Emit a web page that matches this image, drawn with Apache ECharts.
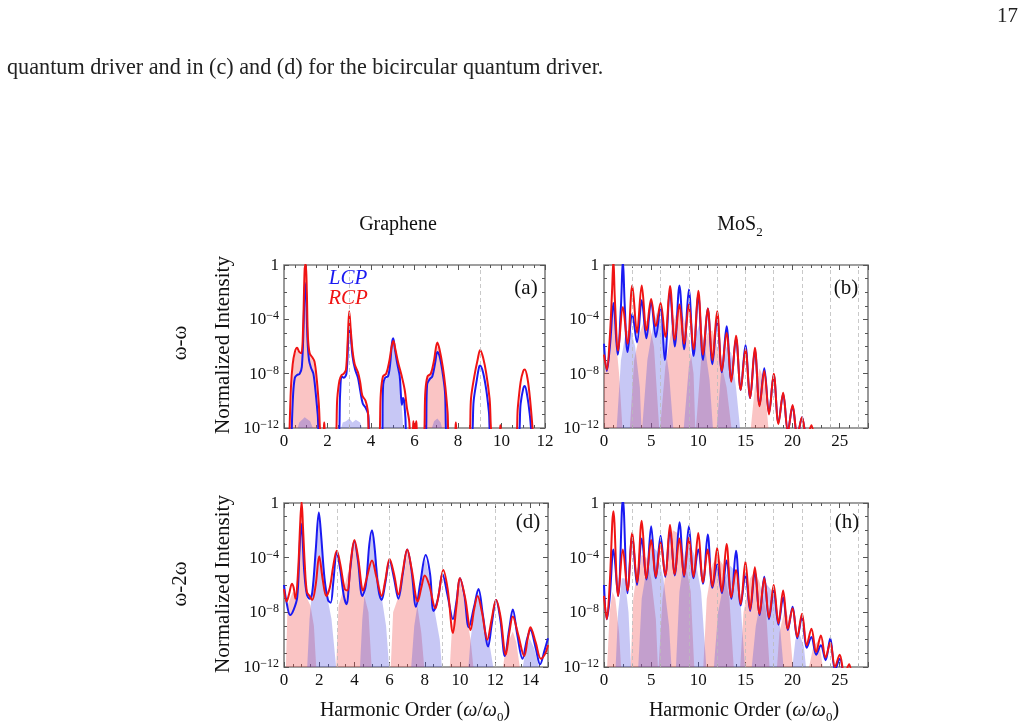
<!DOCTYPE html>
<html>
<head>
<meta charset="utf-8">
<script src="https://cdn.jsdelivr.net/npm/echarts@6/dist/echarts.min.js"></script>
<style>
html, body { margin: 0; padding: 0; background: #fff; }
#main { width: 1028px; height: 726px; }
</style>
</head>
<body>
<div id="main"></div>
<script>
// all intensities are written as log10 exponents: [harmonic order, exponent]
// (a) graphene, omega-omega
const aLcp = [[0.35,-12.5],[0.42,-9.5],[0.5,-8.3],[0.6,-8.1],[0.72,-8.0],[0.82,-7.5],[0.9,-4.5],[0.96,-1.3],[1.02,-2.5],[1.08,-5.5],[1.15,-7.0],[1.25,-7.6],[1.35,-8.0],[1.45,-9.3],[1.55,-11],[1.65,-12.5],
  [2.5,-12.5],[2.58,-9.5],[2.65,-8.2],[2.75,-8.3],[2.87,-8.0],[2.95,-5.6],[3.0,-4.2],[3.07,-5.2],[3.15,-6.7],[3.27,-7.7],[3.4,-8.3],[3.5,-9.2],[3.62,-10.2],[3.75,-10.5],[3.87,-11.0],[3.95,-12.5],
  [4.5,-12.5],[4.56,-8.8],[4.65,-8.3],[4.78,-8.2],[4.88,-7.3],[4.96,-5.8],[5.02,-5.4],[5.1,-6.2],[5.2,-7.2],[5.32,-8.2],[5.42,-10.3],[5.47,-9.8],[5.52,-10.0],[5.58,-11.2],[5.65,-12.5],
  [6.5,-12.5],[6.58,-8.8],[6.7,-8.4],[6.82,-8.2],[6.95,-7.2],[7.05,-6.4],[7.15,-6.7],[7.28,-7.8],[7.4,-9.3],[7.5,-12.5],
  [8.6,-12.5],[8.72,-10],[8.85,-8.6],[8.97,-7.5],[9.02,-7.4],[9.15,-7.9],[9.3,-9.2],[9.42,-10.8],[9.52,-12.5],
  [10.75,-12.5],[10.88,-10.2],[11.0,-9.1],[11.07,-8.9],[11.18,-9.6],[11.3,-11],[11.38,-12.5]];
const aRcp = [[0.25,-12.5],[0.32,-9],[0.4,-7.3],[0.5,-6.4],[0.6,-6.1],[0.7,-6.4],[0.8,-6.5],[0.88,-4.5],[0.95,-0.3],[1.0,0.1],[1.05,-2],[1.1,-5.3],[1.18,-6.5],[1.3,-6.8],[1.4,-7.1],[1.5,-8.3],[1.6,-10.2],[1.7,-12.5],
  [1.8,-12.5],[1.85,-11.6],[1.9,-12.5],
  [2.35,-12.5],[2.45,-9.8],[2.55,-8.5],[2.65,-8.1],[2.75,-8.0],[2.85,-7.7],[2.93,-5.5],[3.0,-3.4],[3.07,-4.8],[3.15,-6.3],[3.25,-7.3],[3.4,-7.9],[3.5,-8.6],[3.6,-9.6],[3.75,-10.0],[3.85,-10.7],[3.95,-12.5],
  [4.35,-12.5],[4.45,-9.5],[4.55,-8.2],[4.7,-8.0],[4.85,-7.0],[4.95,-6.0],[5.03,-5.6],[5.12,-6.2],[5.25,-7.2],[5.4,-8.1],[5.55,-9.2],[5.65,-10.5],[5.75,-11.4],[5.82,-12.5],
  [5.9,-12.5],[5.95,-11.5],[6.0,-12.5],[6.08,-11.5],[6.15,-12.5],
  [6.4,-12.5],[6.5,-9.3],[6.6,-8.2],[6.75,-8.0],[6.9,-7.0],[7.05,-5.7],[7.15,-6.2],[7.3,-7.5],[7.42,-9.0],[7.52,-10.8],[7.6,-12.5],
  [7.85,-12.5],[7.9,-11.6],[7.95,-12.5],
  [8.5,-12.5],[8.6,-9.8],[8.75,-8.2],[8.9,-7.0],[9.02,-6.25],[9.15,-6.8],[9.3,-8.0],[9.45,-9.8],[9.6,-12.5],
  [9.9,-12.5],[9.95,-11.8],[10.0,-12.5],
  [10.65,-12.5],[10.75,-10.5],[10.88,-8.6],[11.0,-7.8],[11.07,-7.7],[11.2,-8.4],[11.32,-10],[11.45,-12.5]];
const aPinkFill = [[0.3,-12.5],[0.4,-7.6],[0.5,-6.6],[0.6,-6.3],[0.75,-6.6],[0.88,-5],[0.97,-0.5],[1.03,-1.5],[1.1,-5.5],[1.2,-6.7],[1.35,-7.1],[1.5,-8.5],[1.6,-10.5],[1.7,-12.5],
  [6.45,-12.5],[6.55,-8.5],[6.7,-8.1],[6.85,-7.6],[7.0,-6.0],[7.1,-6.1],[7.25,-7.2],[7.4,-9],[7.55,-12.5]];
const aBlueFill = [[0.55,-12.5],[0.7,-11.6],[0.95,-11.2],[1.2,-11.5],[1.45,-12.5],
  [2.55,-12.5],[2.7,-11.6],[2.85,-11.5],[3.0,-11.3],[3.15,-11.6],[3.3,-11.4],[3.5,-11.6],[3.7,-12.5],
  [4.55,-12.5],[4.6,-8.6],[4.75,-8.3],[4.88,-7.3],[4.97,-5.8],[5.03,-5.5],[5.12,-6.5],[5.25,-7.8],[5.38,-9.5],[5.5,-12.5],
  [6.7,-12.5],[6.9,-11.5],[7.05,-11.3],[7.2,-11.6],[7.35,-12.5],
  [10.95,-12.5],[11.02,-11.7],[11.1,-12.5]];
const aDash = [3, 9];

// (b) MoS2, omega-omega
const bLcp = [[0,-5.8],[0.3,-7.8],[0.65,-5.8],[1,-2.8],[1.45,-6.6],[1.8,-3],[2,0.4],[2.2,-3],[2.5,-6.4],[3,-3.6],[3.5,-5.7],[4,-2.6],[4.5,-5.4],[5,-2.7],[5.5,-5.3],[6,-3.0],[6.45,-7.0],[7,-2.0],[7.5,-6.0],[8,-1.5],[8.5,-6.2],[9,-1.8],[9.5,-6.7],[10,-2.2],[10.5,-7.0],[11,-3.2],[11.5,-7.3],[12,-3.9],[12.5,-7.9],[13,-4.5],[13.5,-8.5],[14,-5.4],[14.5,-9.2],[15,-5.9],[15.5,-9.8],[16,-6.3],[16.5,-10.3],[17,-7.6],[17.5,-10.9],[18,-8.1],[18.5,-11.6],[19,-9.5],[19.5,-12.2],[20,-10.4],[20.5,-12.6],[21,-11.2],[21.4,-13]];
const bRcp = [[0,-6.6],[0.3,-7.7],[0.6,-5.5],[0.85,-2],[1,0.4],[1.15,-2.5],[1.5,-6.3],[2,-3.1],[2.5,-5.8],[3,-1.5],[3.5,-5.0],[4,-1.5],[4.5,-4.8],[5,-2.5],[5.5,-4.5],[6,-2.8],[6.5,-5.3],[7,-1.55],[7.5,-5.5],[8,-2.9],[8.5,-5.8],[9,-2.9],[9.5,-6.2],[10,-1.9],[10.5,-6.6],[11,-3.2],[11.5,-7.0],[12,-3.4],[12.5,-7.8],[13,-5.0],[13.5,-8.6],[14,-5.2],[14.5,-9.2],[15,-6.2],[15.5,-9.8],[16,-6.1],[16.5,-10.4],[17,-7.8],[17.5,-11.0],[18,-8.0],[18.5,-11.7],[19,-9.4],[19.5,-12.3],[20,-10.3],[20.5,-12.6],[21,-11.2],[21.5,-12.8],[22,-11.8],[22.3,-13]];
const bPinkFill = [[0,-8],[0.4,-7],[0.8,-5],[1,-3],[1.2,-5],[1.6,-8],[2,-12.5],
  [2.7,-12.5],[3.2,-7],[3.8,-5],[4.3,-4.0],[4.8,-4.3],[5.3,-6],[5.9,-12.5],
  [6.0,-12.5],[6.5,-7.5],[7.2,-4.5],[7.8,-3.3],[8.3,-3.5],[9,-5.5],[9.5,-8],[9.7,-12.5],
  [9.75,-12.5],[10.3,-7],[11,-5],[11.5,-4.8],[12.2,-6.5],[13,-9],[13.6,-12.5],
  [15.5,-12.5],[16,-9],[16.5,-7.6],[17,-8.5],[17.5,-12.5]];
const bBlueFill = [[1.3,-12.5],[1.8,-7],[2.3,-5],[2.8,-4.6],[3.3,-6],[3.8,-9],[4.0,-12.5],
  [4.05,-12.5],[4.6,-7],[5.2,-4.5],[5.6,-3.5],[6.2,-4.5],[6.9,-8],[7.4,-12.5],
  [8.4,-12.5],[9,-7.5],[9.6,-5.5],[10.1,-4.4],[10.6,-5.5],[11.2,-8.5],[11.6,-12.5],
  [11.9,-12.5],[12.4,-8],[13,-6],[13.5,-6.5],[14,-9],[14.5,-12.5]];
const bDash = [3, 6, 9, 12, 15, 18, 21, 24, 27];

// (d) graphene, omega-2omega
const dLcp = [[0,-6.0],[0.15,-7.3],[0.35,-8.2],[0.55,-7.8],[0.75,-6.9],[0.88,-3.5],[0.97,-1.5],[1.05,-2.5],[1.15,-5],[1.3,-6.7],[1.45,-7.0],[1.6,-6.6],[1.8,-3.5],[1.98,-0.7],[2.1,-2.2],[2.3,-5.5],[2.5,-7.1],[2.65,-7.3],[2.8,-5.8],[3.0,-3.6],[3.2,-4.9],[3.4,-6.8],[3.55,-7.4],[3.75,-5.0],[4.0,-2.8],[4.2,-4.2],[4.45,-6.8],[4.65,-6.0],[4.85,-3.0],[5.0,-2.0],[5.15,-3.3],[5.35,-6.2],[5.55,-7.1],[5.75,-5.9],[6.0,-4.2],[6.25,-5.5],[6.5,-7.0],[6.75,-5.2],[7.0,-3.4],[7.25,-5.0],[7.5,-7.6],[7.75,-5.8],[8.05,-3.8],[8.3,-5.2],[8.5,-7.9],[8.75,-7.0],[9.0,-5.2],[9.3,-6.8],[9.6,-8.5],[9.8,-7.2],[10.0,-5.5],[10.25,-6.8],[10.5,-9.1],[10.8,-7.6],[11.05,-6.3],[11.3,-8.2],[11.6,-10.5],[11.8,-8.9],[12.05,-7.1],[12.3,-8.6],[12.55,-11.2],[12.8,-9.2],[13.0,-7.8],[13.25,-9.6],[13.55,-11.4],[13.8,-10.0],[14.0,-9.3],[14.3,-10.6],[14.55,-11.8],[14.8,-10.8],[15.0,-9.9]];
const dRcp = [[0,-6.3],[0.15,-7.2],[0.3,-6.6],[0.45,-5.9],[0.55,-6.2],[0.65,-7.0],[0.8,-5.0],[0.92,-1.5],[1.0,0.1],[1.08,-1.8],[1.18,-4.5],[1.3,-6.5],[1.45,-6.8],[1.6,-7.1],[1.8,-6.0],[2.0,-3.9],[2.2,-5.6],[2.4,-6.8],[2.6,-6.2],[2.8,-4.6],[3.0,-3.5],[3.2,-4.5],[3.45,-6.3],[3.6,-6.4],[3.8,-4.2],[4.0,-2.7],[4.2,-3.9],[4.5,-6.4],[4.7,-5.5],[5.0,-4.2],[5.25,-5.4],[5.55,-6.8],[5.75,-5.7],[6.0,-4.1],[6.25,-5.2],[6.5,-6.7],[6.75,-5.0],[7.0,-3.4],[7.25,-4.8],[7.6,-7.2],[7.8,-6.2],[8.0,-5.3],[8.25,-6.0],[8.6,-7.7],[8.8,-6.6],[9.05,-4.9],[9.3,-6.3],[9.6,-9.5],[9.8,-7.5],[10.0,-5.5],[10.3,-7.0],[10.6,-9.3],[10.8,-7.8],[11.0,-6.8],[11.25,-8.0],[11.55,-10.0],[11.8,-8.5],[12.05,-7.1],[12.3,-8.3],[12.6,-11.1],[12.8,-9.5],[13.0,-8.3],[13.3,-9.6],[13.65,-11.2],[13.85,-9.9],[14.0,-9.1],[14.3,-10.2],[14.6,-11.4],[14.85,-11.0],[15.0,-10.4]];
const dPinkFill = [[0.1,-12.5],[0.2,-7.5],[0.5,-6.5],[0.75,-6.8],[0.9,-3],[1.0,-0.3],[1.1,-3],[1.25,-6.8],[1.5,-7.5],[1.7,-9],[1.85,-12.5],
  [2.95,-12.5],[3.1,-7.5],[3.5,-5.8],[3.85,-4],[4.0,-2.9],[4.2,-4.2],[4.5,-6.5],[4.8,-8],[5.0,-12.5],
  [6.05,-12.5],[6.2,-8],[6.6,-6.5],[6.85,-5],[7.0,-3.6],[7.2,-5],[7.55,-7.3],[7.8,-9.5],[8.0,-12.5],
  [9.4,-12.5],[9.55,-9],[9.8,-7.5],[10.0,-5.7],[10.25,-7.2],[10.6,-10],[10.8,-12.5],
  [12.4,-12.5],[12.55,-11],[12.8,-10],[13.0,-9.4],[13.2,-10.2],[13.45,-12.5]];
const dBlueFill = [[1.3,-12.5],[1.45,-8.5],[1.7,-5],[1.9,-2],[2.0,-1.1],[2.15,-3],[2.4,-6.5],[2.7,-8.5],[3.0,-12.5],
  [4.3,-12.5],[4.45,-8.5],[4.7,-5],[4.9,-3],[5.0,-2.3],[5.2,-3.8],[5.5,-6.5],[5.8,-9],[6.0,-12.5],
  [7.2,-12.5],[7.4,-9],[7.7,-6.5],[7.95,-4.5],[8.05,-4.1],[8.3,-5.6],[8.6,-8.2],[8.85,-10],[9.0,-12.5],
  [10.45,-12.5],[10.6,-10],[10.85,-7.5],[11.05,-6.6],[11.3,-8.5],[11.7,-10.5],[11.95,-12.5],
  [13.5,-12.5],[13.7,-11],[13.95,-9.9],[14.2,-10.6],[14.6,-12.5]];
const dDash = [3, 6, 9, 12];

// (h) MoS2, omega-2omega
const hLcp = [[0,-6.0],[0.3,-8.5],[0.6,-7],[1,-3.4],[1.5,-6.8],[2,0.3],[2.5,-6.6],[3,-2.4],[3.5,-6.0],[4,-2.6],[4.5,-5.6],[5,-1.7],[5.5,-5.5],[6,-2.4],[6.5,-5.4],[7,-2.0],[7.5,-5.3],[8,-1.4],[8.5,-5.4],[9,-1.7],[9.5,-5.5],[10,-3.4],[10.5,-5.9],[11,-2.3],[11.5,-6.2],[12,-4.5],[12.5,-6.6],[13,-4.2],[13.5,-7.0],[14,-3.5],[14.5,-7.5],[15,-5.2],[15.5,-7.9],[16,-5.0],[16.5,-8.2],[17,-5.4],[17.5,-8.5],[18,-6.4],[18.5,-8.9],[19,-6.9],[19.5,-9.3],[20,-7.6],[20.5,-9.9],[21,-8.3],[21.5,-10.6],[22,-9.8],[22.5,-11.1],[23,-10.4],[23.5,-11.5],[24,-9.9],[24.5,-12.2],[25,-11.4],[25.4,-13]];
const hRcp = [[0,-6.8],[0.3,-8.5],[0.6,-6],[1,-0.6],[1.5,-6.8],[2,-3.4],[2.5,-6.4],[3,-2.2],[3.5,-5.8],[4,-1.3],[4.5,-5.5],[5,-2.7],[5.5,-5.4],[6,-2.9],[6.5,-5.3],[7,-1.6],[7.5,-5.2],[8,-2.6],[8.5,-5.3],[9,-2.55],[9.5,-5.4],[10,-2.2],[10.5,-5.8],[11,-3.4],[11.5,-6.1],[12,-3.3],[12.5,-6.5],[13,-3.0],[13.5,-6.9],[14,-4.9],[14.5,-7.4],[15,-4.3],[15.5,-7.8],[16,-4.7],[16.5,-8.1],[17,-5.5],[17.5,-8.4],[18,-6.0],[18.5,-8.8],[19,-6.4],[19.5,-9.2],[20,-7.7],[20.5,-9.8],[21,-8.1],[21.5,-10.4],[22,-9.2],[22.5,-10.9],[23,-9.7],[23.5,-11.3],[24,-10.2],[24.5,-12],[25,-11.1],[25.5,-12.5],[26,-11.8],[26.3,-13]];
const hPinkFill = [[0.3,-12.5],[0.6,-8],[0.9,-6.5],[1.2,-7],[1.6,-9.5],[1.85,-12.5],
  [2.8,-12.5],[3.1,-7],[3.5,-5],[4.0,-3.8],[4.5,-4],[5.0,-5.5],[5.5,-8.5],[5.75,-12.5],
  [5.8,-12.5],[6.2,-7],[6.8,-3.5],[7.3,-2],[7.8,-2.2],[8.5,-3.8],[9.2,-6.5],[9.6,-12.5],
  [10.5,-12.5],[10.9,-7],[11.5,-4.5],[12.0,-3.9],[12.6,-4.5],[13.3,-7],[13.8,-12.5],
  [14.4,-12.5],[14.8,-8],[15.5,-5.5],[16.0,-5.0],[16.5,-5.8],[17.2,-8],[17.6,-12.5],
  [18.3,-12.5],[18.6,-9.5],[19.2,-7.7],[19.6,-8.5],[20.1,-12.5],
  [21.6,-12.5],[22.2,-10.5],[22.8,-10],[23.3,-12.5]];
const hBlueFill = [[1.2,-12.5],[1.5,-8],[1.9,-5.5],[2.2,-5.5],[2.6,-8],[2.9,-12.5],
  [3.6,-12.5],[4.0,-7],[4.6,-4.5],[5.1,-3.2],[5.6,-3.5],[6.3,-5.5],[6.9,-9],[7.2,-12.5],
  [7.6,-12.5],[8.0,-6.5],[8.6,-3.6],[9.1,-3.0],[9.6,-3.8],[10.3,-6.5],[10.9,-12.5],
  [11.6,-12.5],[12.1,-8],[12.8,-5.5],[13.4,-4.6],[13.9,-5],[14.5,-7.5],[15.0,-12.5],
  [15.6,-12.5],[16.1,-9],[16.8,-6.5],[17.3,-6],[17.9,-6.5],[18.6,-8.5],[19.1,-12.5],
  [19.9,-12.5],[20.3,-10],[20.7,-9.5],[21.2,-10.5],[21.5,-12.5]];
const hDash = [3, 6, 9, 12, 15, 18, 21, 24, 27];

const FONT = 'Liberation Serif';
const BLUE = '#1a1af2';
const RED = '#f01414';
const PINK_FILL = 'rgba(240,70,70,0.32)';
const BLUE_FILL = 'rgba(80,80,225,0.32)';

const grids = [
  {left: 284, top: 265, width: 261, height: 163},
  {left: 604, top: 265, width: 264, height: 163},
  {left: 284, top: 503, width: 264, height: 164},
  {left: 604, top: 503, width: 264, height: 164}
];

// onZero off, otherwise the axes jump to the zero line of the other axis (top / left edge)
const hiddenLine = {show: false, onZero: false};
const tickStyle = {show: true, inside: true, length: 5, lineStyle: {color: '#555'}};
const minorStyle = (n) => ({show: true, splitNumber: n, length: 3, lineStyle: {color: '#555'}});

function xAxes(gi, max, interval, minorSplit, showMax) {
  const base = {
    type: 'value', gridIndex: gi, min: 0, max: max, interval: interval,
    axisLine: hiddenLine, axisTick: tickStyle, minorTick: minorStyle(minorSplit),
    splitLine: {show: false}
  };
  return [
    Object.assign({}, base, {position: 'bottom',
      axisLabel: {fontFamily: FONT, fontSize: 17, color: '#111', margin: 5, showMaxLabel: showMax}}),
    Object.assign({}, base, {position: 'top', axisLabel: {show: false}})
  ];
}

function yAxes(gi) {
  const base = {
    type: 'value', gridIndex: gi, min: -12, max: 0, interval: 4,
    axisLine: hiddenLine, axisTick: tickStyle, minorTick: minorStyle(4),
    splitLine: {show: false}
  };
  return [
    Object.assign({}, base, {position: 'left',
      axisLabel: {
        margin: 5, color: '#111',
        formatter: (v) => v === 0 ? '{b|1}' : '{b|10}{s|\u2212' + Math.abs(v) + '}',
        rich: {
          b: {fontFamily: FONT, fontSize: 17, color: '#111', verticalAlign: 'bottom', lineHeight: 18},
          s: {fontFamily: FONT, fontSize: 12, color: '#111', verticalAlign: 'top', lineHeight: 12, padding: [0, 0, 8, 0]}
        }
      }}),
    Object.assign({}, base, {position: 'right', axisLabel: {show: false}})
  ];
}

function fillSeries(gi, data, color, dashes) {
  const s = {
    type: 'line', xAxisIndex: 2 * gi, yAxisIndex: 2 * gi, data: data,
    symbol: 'none', silent: true, z: 1,
    lineStyle: {width: 0},
    areaStyle: {color: color, opacity: 1, origin: 'start'}
  };
  if (dashes) {
    s.markLine = {
      silent: true, symbol: ['none', 'none'], label: {show: false},
      lineStyle: {type: [4, 3], color: '#bbbbbb', width: 0.8},
      data: dashes.map((v) => ({xAxis: v}))
    };
  }
  return s;
}

function lineSeries(gi, data, color, z) {
  return {
    type: 'line', xAxisIndex: 2 * gi, yAxisIndex: 2 * gi, data: data,
    symbol: 'none', smooth: 0.35, silent: true, z: z,
    lineStyle: {color: color, width: 2}
  };
}

const myChart = echarts.init(document.getElementById('main'), null, {renderer: 'canvas'});

const panelLabel = (text, x, y) => ({
  type: 'text', x: x, y: y,
  style: {text: text, fontFamily: FONT, fontSize: 21, fill: '#111', align: 'center', verticalAlign: 'middle'}
});

const harmonicLabel = (x) => ({
  type: 'text', x: x, y: 711,
  style: {text: '{t|Harmonic Order (}{i|ω}{t|/}{i|ω}{s|0}{t|)}', align: 'center', verticalAlign: 'middle',
    rich: {
      t: {fontFamily: FONT, fontSize: 20, fill: '#111'},
      i: {fontFamily: FONT, fontSize: 20, fontStyle: 'italic', fill: '#111'},
      s: {fontFamily: FONT, fontSize: 13, fill: '#111', verticalAlign: 'bottom', padding: [0, 0, -3, 0]}
    }}
});

let option = {
  animation: false,
  backgroundColor: '#fff',
  grid: grids.map((g) => Object.assign({show: true, borderColor: '#808080', borderWidth: 1.6, backgroundColor: 'transparent'}, g)),
  xAxis: [].concat(xAxes(0, 12, 2, 4, true), xAxes(1, 28, 5, 5, false), xAxes(2, 15, 2, 4, false), xAxes(3, 28, 5, 5, false)),
  yAxis: [].concat(yAxes(0), yAxes(1), yAxes(2), yAxes(3)),
  series: [
    fillSeries(0, aPinkFill, PINK_FILL, aDash), fillSeries(0, aBlueFill, BLUE_FILL),
    lineSeries(0, aLcp, BLUE, 3), lineSeries(0, aRcp, RED, 4),
    fillSeries(1, bPinkFill, PINK_FILL, bDash), fillSeries(1, bBlueFill, BLUE_FILL),
    lineSeries(1, bLcp, BLUE, 3), lineSeries(1, bRcp, RED, 4),
    fillSeries(2, dPinkFill, PINK_FILL, dDash), fillSeries(2, dBlueFill, BLUE_FILL),
    lineSeries(2, dLcp, BLUE, 3), lineSeries(2, dRcp, RED, 4),
    fillSeries(3, hPinkFill, PINK_FILL, hDash), fillSeries(3, hBlueFill, BLUE_FILL),
    lineSeries(3, hLcp, BLUE, 3), lineSeries(3, hRcp, RED, 4)
  ],
  graphic: [
    {type: 'text', x: 1018, y: 16, style: {text: '17', fontFamily: FONT, fontSize: 21, fill: '#222', align: 'right', verticalAlign: 'middle'}},
    {type: 'text', x: 7, y: 68, style: {text: 'quantum driver and in (c) and (d) for the bicircular quantum driver.', fontFamily: FONT, fontSize: 22.2, fill: '#222', align: 'left', verticalAlign: 'middle'}},
    {type: 'text', x: 398, y: 225, style: {text: 'Graphene', fontFamily: FONT, fontSize: 20, fill: '#111', align: 'center', verticalAlign: 'middle'}},
    {type: 'text', x: 740, y: 225, style: {text: '{t|MoS}{s|2}', align: 'center', verticalAlign: 'middle',
      rich: {t: {fontFamily: FONT, fontSize: 20, fill: '#111', verticalAlign: 'bottom', lineHeight: 20}, s: {fontFamily: FONT, fontSize: 13, fill: '#111', verticalAlign: 'bottom', lineHeight: 20, padding: [0, 0, -4, 0]}}}},
    {type: 'text', x: 180, y: 343, rotation: Math.PI / 2, style: {text: 'ω-ω', fontFamily: FONT, fontSize: 21, fill: '#111', align: 'center', verticalAlign: 'middle'}},
    {type: 'text', x: 180, y: 584, rotation: Math.PI / 2, style: {text: 'ω-2ω', fontFamily: FONT, fontSize: 21, fill: '#111', align: 'center', verticalAlign: 'middle'}},
    {type: 'text', x: 223, y: 345, rotation: Math.PI / 2, style: {text: 'Normalized Intensity', fontFamily: FONT, fontSize: 21, fill: '#111', align: 'center', verticalAlign: 'middle'}},
    {type: 'text', x: 223, y: 584, rotation: Math.PI / 2, style: {text: 'Normalized Intensity', fontFamily: FONT, fontSize: 21, fill: '#111', align: 'center', verticalAlign: 'middle'}},
    harmonicLabel(415),
    harmonicLabel(744),
    {type: 'text', x: 348, y: 278, z: 10, style: {text: 'LCP', fontFamily: FONT, fontSize: 21, fontStyle: 'italic', fill: BLUE, align: 'center', verticalAlign: 'middle'}},
    {type: 'text', x: 348, y: 298, z: 10, style: {text: 'RCP', fontFamily: FONT, fontSize: 21, fontStyle: 'italic', fill: RED, align: 'center', verticalAlign: 'middle'}},
    panelLabel('(a)', 526, 288),
    panelLabel('(b)', 846, 288),
    panelLabel('(d)', 528, 522),
    panelLabel('(h)', 847, 522)
  ]
};
myChart.setOption(option);
</script>
</body>
</html>
